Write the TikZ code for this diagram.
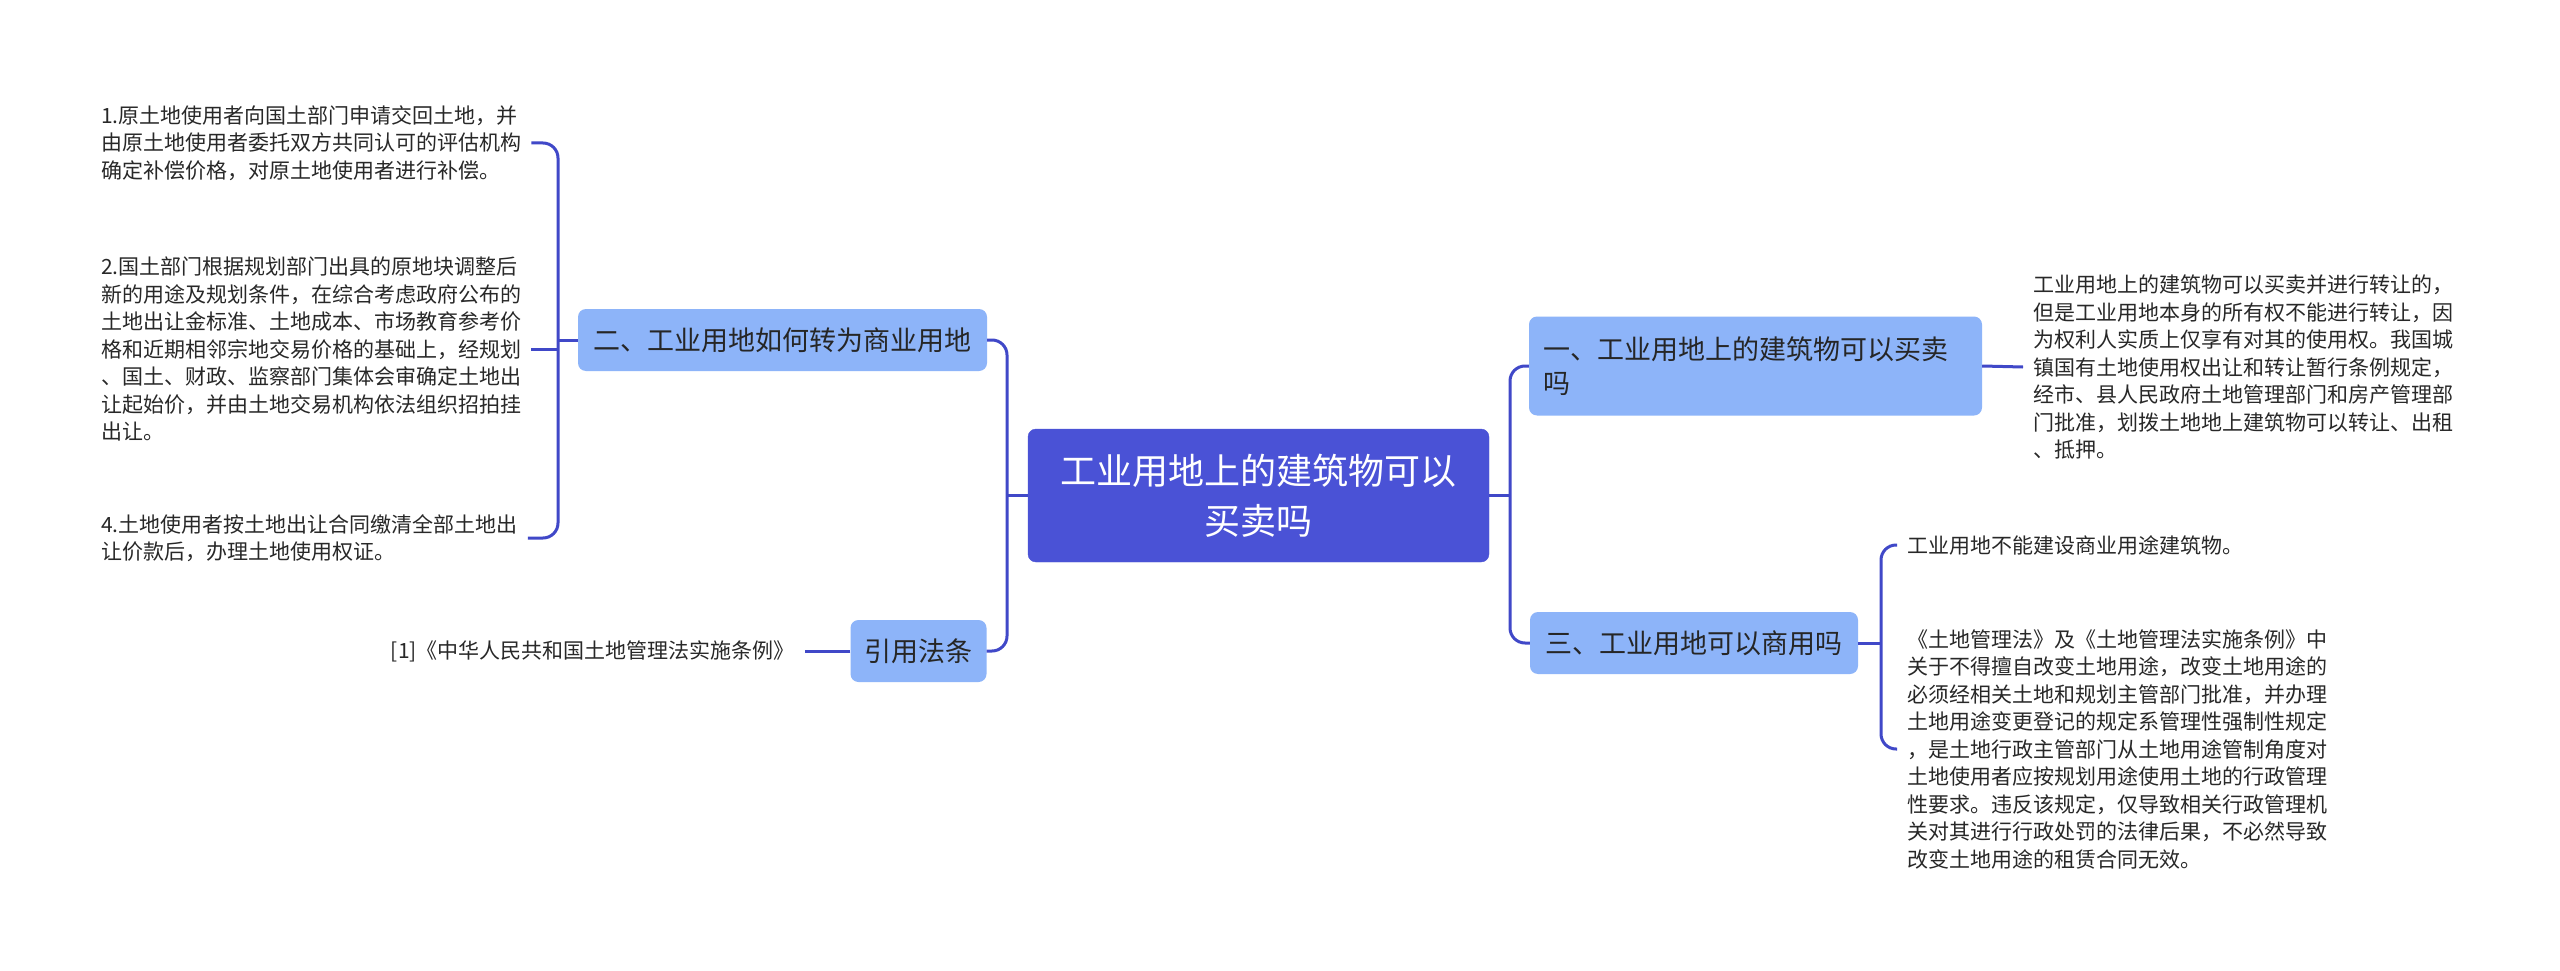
\documentclass[tikz,border=0pt]{standalone}
\usepackage{fontspec}
\setmainfont{Noto Sans CJK SC}
\usepackage{xcolor}
\usepackage{tikz}
\usetikzlibrary{positioning}
\definecolor{rootblue}{RGB}{74, 82, 214}
\definecolor{branchblue}{RGB}{141, 180, 249}
\definecolor{linkblue}{RGB}{64, 72, 200}
\definecolor{leafgray}{RGB}{40, 40, 40}

\begin{document}
\begin{tikzpicture}[
    x=1pt, y=-1pt,
    rootnode/.style={fill=rootblue, draw=rootblue, rounded corners=8pt, text=white,
               font=\fontsize{36pt}{50pt}\selectfont, align=center,
               minimum width=461pt, minimum height=133pt},
    branch/.style={fill=branchblue, rounded corners=8pt, text=black!85,
               font=\fontsize{27pt}{34pt}\selectfont, minimum height=62pt, inner xsep=14pt},
    leaf/.style={text=leafgray, font=\fontsize{21pt}{27.5pt}\selectfont,
               align=left, inner xsep=10pt, inner ysep=4pt},
    link/.style={draw=linkblue, line width=3pt, rounded corners=15pt},
]

%% fondo y marco
\fill[white] (0,0) rectangle (2560,971);
\useasboundingbox (0,0) rectangle (2560,971);

%% Nodos principales
\node[rootnode] at (1258.5,495.5) (root) {工业用地上的建筑物可以\\买卖吗};

\node[branch, minimum width=409pt] at (782.5,340)  (two)   {二、工业用地如何转为商业用地};
\node[branch, minimum width=135pt] at (918.5,651)  (law)   {引用法条};
\node[branch, text width=425pt, align=left, minimum height=99pt]
                                   at (1755.5,366) (one)   {一、工业用地上的建筑物可以买卖\\吗};
\node[branch, minimum width=328pt] at (1694,643)   (three) {三、工业用地可以商用吗};

%% Hojas izquierda
\node[leaf, anchor=west] at (91,143) (leafa) {1.原土地使用者向国土部门申请交回土地，并\\由原土地使用者委托双方共同认可的评估机构\\确定补偿价格，对原土地使用者进行补偿。};
\node[leaf, anchor=west] at (91,349) (leafb) {2.国土部门根据规划部门出具的原地块调整后\\新的用途及规划条件，在综合考虑政府公布的\\土地出让金标准、土地成本、市场教育参考价\\格和近期相邻宗地交易价格的基础上，经规划\\、国土、财政、监察部门集体会审确定土地出\\让起始价，并由土地交易机构依法组织招拍挂\\出让。};
\node[leaf, anchor=west] at (91,538) (leafc) {4.土地使用者按土地出让合同缴清全部土地出\\让价款后，办理土地使用权证。};
\node[leaf, anchor=east] at (805,651) (reflaw) {[1]《中华人民共和国土地管理法实施条例》};

%% Hojas derecha
\node[leaf, anchor=west] at (2023,367) (onetext) {工业用地上的建筑物可以买卖并进行转让的，\\但是工业用地本身的所有权不能进行转让，因\\为权利人实质上仅享有对其的使用权。我国城\\镇国有土地使用权出让和转让暂行条例规定，\\经市、县人民政府土地管理部门和房产管理部\\门批准，划拨土地地上建筑物可以转让、出租\\、抵押。};
\node[leaf, anchor=west] at (1897,545) (nobuild) {工业用地不能建设商业用途建筑物。};
\node[leaf, anchor=west] at (1897,749) (lawtext) {《土地管理法》及《土地管理法实施条例》中\\关于不得擅自改变土地用途，改变土地用途的\\必须经相关土地和规划主管部门批准，并办理\\土地用途变更登记的规定系管理性强制性规定\\，是土地行政主管部门从土地用途管制角度对\\土地使用者应按规划用途使用土地的行政管理\\性要求。违反该规定，仅导致相关行政管理机\\关对其进行行政处罚的法律后果，不必然导致\\改变土地用途的租赁合同无效。};

%% Puntos de unión
\coordinate (jl) at (1007,495.5);
\coordinate (jr) at (1510,495.5);
\coordinate (jtwo) at (558,340);
\coordinate (jthree) at (1881,643);

%% Conexiones
\draw[link] (root.west) -- (jl);
\draw[link] (two.east) -| (jl) |- (law.east);
\draw[link] (root.east) -- (jr);
\draw[link] (one.west) -| (jr) |- (three.west);

\draw[link] (two.west) -- (jtwo);
\draw[link] (leafa.east) -| (jtwo) |- (leafc.east);
\draw[link] (leafb.east) -- (leafb.east -| jtwo);
\draw[link] (law.west) -- (reflaw.east);

\draw[link] (one.east) -- (onetext.west);
\draw[link] (three.east) -- (jthree);
\draw[link] (nobuild.west) -| (jthree) |- (lawtext.west);

\end{tikzpicture}
\end{document}
